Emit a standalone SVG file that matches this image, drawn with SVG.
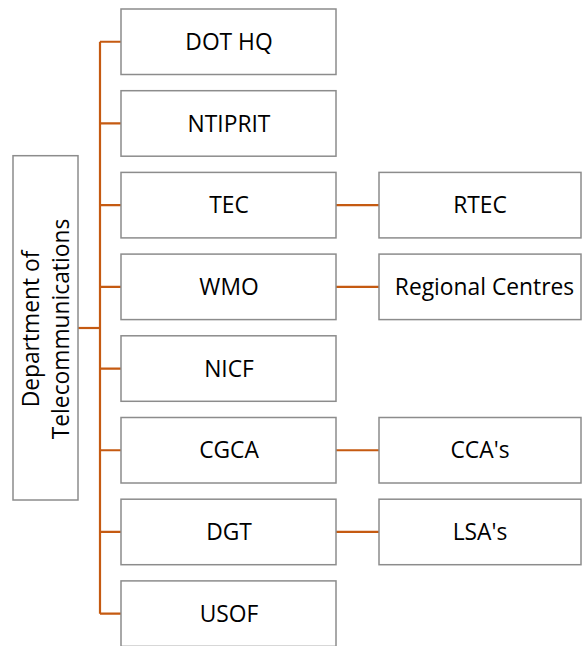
<svg xmlns="http://www.w3.org/2000/svg" width="582" height="646" viewBox="0 0 582 646">
<style>
.box{fill:#ffffff;stroke:#8c8c8c;stroke-width:1.5}
.lbl{font-family:"Open Sans","Liberation Sans",sans-serif;font-size:22.8px;fill:#000000;text-anchor:middle}
.con{stroke:#c55a11;stroke-width:2.2;fill:none}
</style>
<rect width="582" height="646" fill="#ffffff"/>
<g id="connectors">
<path class="con" d="M100 41.75V613.65"/>
<path class="con" d="M78 328H100"/>
<path class="con" d="M100 41.75H121M100 123.45H121M100 205.15H121M100 286.85H121M100 368.55H121M100 450.25H121M100 531.95H121M100 613.65H121"/>
<path class="con" d="M336 205.15H379M336 286.85H379M336 450.25H379M336 531.95H379"/>
</g>
<g id="dot">
<rect class="box" x="13" y="155.7" width="65" height="344.3"/>
<text class="lbl" transform="translate(38.5 329) rotate(-90)" x="0" y="0">Department of</text>
<text class="lbl" transform="translate(68.5 329) rotate(-90)" x="0" y="0">Telecommunications</text>
</g>
<g id="dothq"><rect class="box" x="121" y="9" width="215" height="65.5"/><text class="lbl" x="229" y="49.8">DOT HQ</text></g>
<g id="ntiprit"><rect class="box" x="121" y="90.7" width="215" height="65.5"/><text class="lbl" x="229" y="131.5">NTIPRIT</text></g>
<g id="tec"><rect class="box" x="121" y="172.4" width="215" height="65.5"/><text class="lbl" x="229" y="213.2">TEC</text></g>
<g id="wmo"><rect class="box" x="121" y="254.1" width="215" height="65.5"/><text class="lbl" x="229" y="294.9">WMO</text></g>
<g id="nicf"><rect class="box" x="121" y="335.8" width="215" height="65.5"/><text class="lbl" x="229" y="376.6">NICF</text></g>
<g id="cgca"><rect class="box" x="121" y="417.5" width="215" height="65.5"/><text class="lbl" x="229" y="458.3">CGCA</text></g>
<g id="dgt"><rect class="box" x="121" y="499.2" width="215" height="65.5"/><text class="lbl" x="229" y="540">DGT</text></g>
<g id="usof"><rect class="box" x="121" y="580.9" width="215" height="65.5"/><text class="lbl" x="229" y="621.7">USOF</text></g>
<g id="rtec"><rect class="box" x="379" y="172.4" width="202" height="65.5"/><text class="lbl" x="480" y="213.2">RTEC</text></g>
<g id="regional"><rect class="box" x="379" y="254.1" width="202" height="65.5"/><text class="lbl" x="484.5" y="294.9">Regional Centres</text></g>
<g id="ccas"><rect class="box" x="379" y="417.5" width="202" height="65.5"/><text class="lbl" x="480" y="458.3">CCA's</text></g>
<g id="lsas"><rect class="box" x="379" y="499.2" width="202" height="65.5"/><text class="lbl" x="480" y="540">LSA's</text></g>
</svg>
